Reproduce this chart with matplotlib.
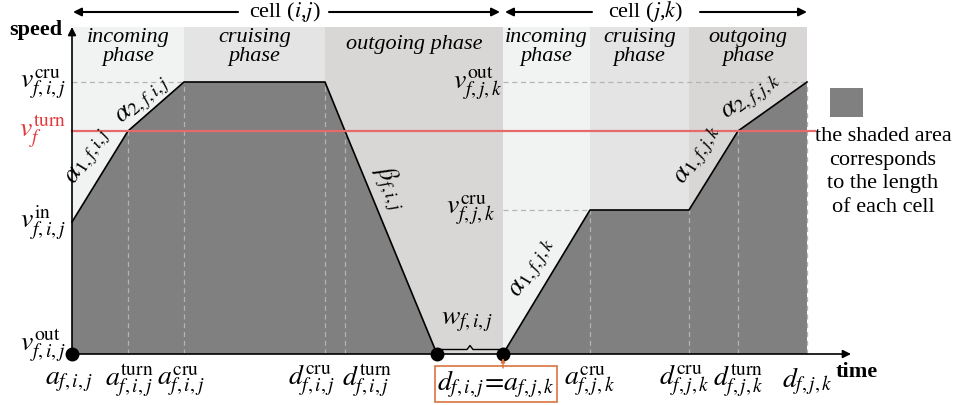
import matplotlib
matplotlib.use("Agg")
import matplotlib.pyplot as plt
from matplotlib.patches import Rectangle

plt.rcParams["font.family"] = ["Liberation Serif", "DejaVu Serif"]
plt.rcParams["mathtext.fontset"] = "stix"

# --- data (time / speed units) ---------------------------------------------
T_IJ = [0.0, 0.0, 5.6, 11.2, 25.3, 27.3, 36.5]      # a, a, a_turn, a_cru, d_cru, d_turn, d
V_IJ = [0.0, 13.2, 22.3, 27.2, 27.2, 22.3, 0.0]
T_JK = [43.1, 51.8, 61.7, 66.6, 73.5]              # a, a_cru, d_cru, d_turn, d
V_JK = [0.0, 14.4, 14.4, 22.3, 27.2]
V_TURN = 22.3
V_IN_IJ = 13.2
V_CRU_IJ = 27.2
V_CRU_JK = 14.4
V_OUT_JK = 27.2

PHASE_EDGES = [0.0, 11.2, 25.3, 43.1, 51.8, 61.7, 73.5]
PHASE_NAMES = ["incoming\nphase", "cruising\nphase", "outgoing phase",
               "incoming\nphase", "cruising\nphase", "outgoing\nphase"]
PHASE_COLORS = ["#f1f2f2", "#e4e4e4", "#d9d6d6", "#f1f2f2", "#e4e4e4", "#d9d6d6"]

X_TICKS = [0.0, 5.6, 11.2, 25.3, 27.3, 51.8, 61.7, 66.6, 73.5]
X_LABELS = [r"$a_{f,i,j}$", r"$a^{\rm turn}_{f,i,j}$", r"$a^{\rm cru}_{f,i,j}$",
            r"$d^{\rm cru}_{f,i,j}$", r"$d^{\rm turn}_{f,i,j}$",
            r"$a^{\rm cru}_{f,j,k}$", r"$d^{\rm cru}_{f,j,k}$",
            r"$d^{\rm turn}_{f,j,k}$", r"$d_{f,j,k}$"]
X_LABEL_SHIFT = [-0.3, 0.1, -0.3, -1.3, 2.2, 0.0, -0.5, 0.0, 0.0]

DARK = "#808080"
RED = "#e46a6c"
RED_TXT = "#e0393e"
ORANGE = "#d9733f"
DASH = "#b4b4b4"


def P(x, y):
    """pixel position -> data position"""
    return (x - 72) / 10.0, (354 - y) / 10.0


fig = plt.figure(figsize=(9.78, 4.05), dpi=100)
ax = fig.add_axes([0, 0, 1, 1])
ax.set_xlim(-7.2, 90.6)
ax.set_ylim(-5.1, 35.4)
ax.axis("off")

top = P(0, 27)[1]
# phase backgrounds
for i, name in enumerate(PHASE_NAMES):
    x0, x1 = PHASE_EDGES[i], PHASE_EDGES[i + 1]
    ax.add_patch(Rectangle((x0, 0), x1 - x0, top, facecolor=PHASE_COLORS[i],
                           edgecolor="none", zorder=0))
    lines = name.count("\n") + 1
    ty = P(0, 47 if lines == 2 else 44)[1]
    ax.text((x0 + x1) / 2, ty, name, ha="center", va="center", fontsize=16,
            style="italic", linespacing=0.95, zorder=3)

# shaded areas
ax.fill(T_IJ + [T_IJ[-1]], V_IJ + [0], color=DARK, zorder=1, lw=0)
ax.fill(T_JK + [T_JK[-1]], V_JK + [0], color=DARK, zorder=1, lw=0)
ax.plot(T_IJ[1:], V_IJ[1:], color="black", lw=1.2, zorder=4)
ax.plot(T_JK, V_JK, color="black", lw=1.2, zorder=4)

# dashed guides
for t, v in zip(T_IJ[2:6], V_IJ[2:6]):
    ax.plot([t, t], [0, v], ls=(0, (4, 3)), color=DASH, lw=0.9, zorder=2)
for t, v in zip(T_JK[1:], V_JK[1:]):
    ax.plot([t, t], [0, v], ls=(0, (4, 3)), color=DASH, lw=0.9, zorder=2)
ax.plot([0, T_IJ[3]], [V_CRU_IJ, V_CRU_IJ], ls=(0, (4, 3)), color=DASH, lw=0.9, zorder=2)
ax.plot([T_JK[0], T_JK[-1]], [V_OUT_JK, V_OUT_JK], ls=(0, (4, 3)), color=DASH, lw=0.9, zorder=2)
ax.plot([T_JK[0], T_JK[1]], [V_CRU_JK, V_CRU_JK], ls=(0, (4, 3)), color=DASH, lw=0.9, zorder=2)

# turn speed line
ax.plot([0, P(815, 0)[0]], [V_TURN, V_TURN], color=RED, lw=1.6, zorder=5)

# axes arrows
ax.annotate("", xy=(0, P(0, 27)[1]), xytext=(0, 0),
            arrowprops=dict(arrowstyle="-|>", color="black", lw=1.2,
                            mutation_scale=12, shrinkA=0, shrinkB=0), zorder=6)
ax.annotate("", xy=(P(851, 0)[0], 0), xytext=(0, 0),
            arrowprops=dict(arrowstyle="-|>", color="black", lw=1.2,
                            mutation_scale=12, shrinkA=0, shrinkB=0), zorder=6)
ax.text(*P(36, 30), "speed", fontsize=16, fontweight="bold", ha="center", va="center")
ax.text(*P(857, 372), "time", fontsize=16, fontweight="bold", ha="center", va="center")

# dots
ax.plot([T_IJ[0], T_IJ[-1], T_JK[0]], [0, 0, 0], "o", color="black", ms=9, zorder=7,
        clip_on=False)

# brace + w label
bx = [36.5, 36.9, 39.5, 39.8, 40.1, 42.7, 43.1]
by = [0.1, 0.45, 0.45, 0.85, 0.45, 0.45, 0.1]
ax.plot(bx, by, color="black", lw=1.0, zorder=6)
ax.text(*P(467, 322), r"$w_{f,i,j}$", fontsize=20, ha="center", va="center", zorder=6)

# y labels
ylab = [(V_CRU_IJ, r"$v^{\rm cru}_{f,i,j}$", "black", 84),
        (V_TURN, r"$v^{\rm turn}_{f}$", RED_TXT, 132),
        (V_IN_IJ, r"$v^{\rm in}_{f,i,j}$", "black", 222),
        (0.0, r"$v^{\rm out}_{f,i,j}$", "black", 346)]
for v, lab, c, py in ylab:
    ax.text(P(66, 0)[0], P(0, py)[1], lab, fontsize=20, color=c, ha="right", va="center")
ax.text(*P(478, 84), r"$v^{\rm out}_{f,j,k}$", fontsize=20, ha="center", va="center")
ax.text(*P(471, 210), r"$v^{\rm cru}_{f,j,k}$", fontsize=20, ha="center", va="center")

# x labels
for t, lab, dx in zip(X_TICKS, X_LABELS, X_LABEL_SHIFT):
    ax.text(t + dx, P(0, 381)[1], lab, fontsize=20, ha="center", va="center")

# boxed shared boundary label
ax.text(*P(496, 384), r"$d_{f,i,j}\!=\!a_{f,j,k}$", fontsize=20, ha="center", va="center",
        bbox=dict(boxstyle="square,pad=0.08", facecolor="white", edgecolor=ORANGE, lw=1.2))
ax.annotate("", xy=(T_JK[0], P(0, 358)[1]), xytext=(T_JK[0], P(0, 368)[1]),
            arrowprops=dict(arrowstyle="-|>", color=ORANGE, lw=1.0, mutation_scale=6,
                            shrinkA=0, shrinkB=0), zorder=8)

# slope labels
slopes = [((90, 157), 58.4, r"$\alpha_{1,f,i,j}$"),
          ((144, 101), 41.2, r"$\alpha_{2,f,i,j}$"),
          ((390, 188), -67.6, r"$\beta_{f,i,j}$"),
          ((534, 269), 58.9, r"$\alpha_{1,f,j,k}$"),
          ((700, 156), 58.2, r"$\alpha_{1,f,j,k}$"),
          ((752, 98), 35.4, r"$\alpha_{2,f,j,k}$")]
for (px, py), rot, lab in slopes:
    ax.text(*P(px, py), lab, fontsize=19, rotation=rot, rotation_mode="anchor",
            ha="center", va="center", zorder=6)

# cell arrows
cells = [((73, 238), (329, 500), 285, "cell ($i$,$j$)"),
         ((505, 592), (700, 807), 646, "cell ($j$,$k$)")]
for (l0, l1), (r0, r1), cx, lab in cells:
    ax.annotate("", xy=P(l0, 12), xytext=P(l1, 12),
                arrowprops=dict(arrowstyle="-|>", color="black", lw=1.5,
                                mutation_scale=12, shrinkA=0, shrinkB=0))
    ax.annotate("", xy=P(r1, 12), xytext=P(r0, 12),
                arrowprops=dict(arrowstyle="-|>", color="black", lw=1.5,
                                mutation_scale=12, shrinkA=0, shrinkB=0))
    ax.text(*P(cx, 12), lab, fontsize=16, ha="center", va="center")

# legend
lx, ly = P(830, 117)
ax.add_patch(Rectangle((lx, ly), 3.3, 2.9, facecolor=DARK, edgecolor="none"))
ax.text(*P(883, 172), "the shaded area\ncorresponds\nto the length\nof each cell",
        fontsize=16, ha="center", va="center", linespacing=1.35)

fig.savefig("out.png", dpi=100)
